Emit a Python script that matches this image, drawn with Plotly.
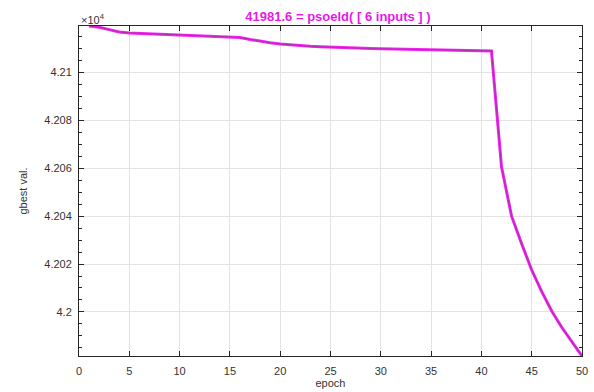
import plotly.graph_objects as go

epochs = list(range(1, 51))
gbest = [
    42119.4, 42118.9, 42117.9, 42116.9, 42116.5, 42116.3, 42116.1, 42115.9, 42115.8, 42115.6,
    42115.4, 42115.2, 42115.0, 42114.9, 42114.7, 42114.6, 42113.8, 42113.0, 42112.4, 42111.9,
    42111.5, 42111.1, 42110.9, 42110.7, 42110.5, 42110.3, 42110.2, 42110.1, 42110.0, 42109.9,
    42109.8, 42109.7, 42109.6, 42109.5, 42109.4, 42109.3, 42109.2, 42109.1, 42109.1, 42109.0,
    42109.0, 42060.6, 42040.0, 42028.5, 42017.5, 42008.5, 42000.3, 41993.5, 41987.3, 41981.6,
]
xtick_vals = [0, 5, 10, 15, 20, 25, 30, 35, 40, 45, 50]
ytick_vals = [42000, 42020, 42040, 42060, 42080, 42100]
ytick_text = ["4.2", "4.202", "4.204", "4.206", "4.208", "4.21"]
title_text = "41981.6 = psoeld( [ 6 inputs ] )"

axis_color = "#262626"
grid_color = "#e3e3e3"
font = "Liberation Sans, Arial, sans-serif"

fig = go.Figure()
fig.add_trace(go.Scatter(
    x=epochs, y=gbest, mode="lines",
    line=dict(color="#f028f0", width=3),
    hoverinfo="skip", showlegend=False,
))
fig.add_trace(go.Scatter(
    x=epochs, y=gbest, mode="lines",
    line=dict(color="#b82ab8", width=1.2),
    hoverinfo="skip", showlegend=False,
))

fig.update_layout(
    width=594, height=392,
    margin=dict(l=79, r=12, t=26, b=36),
    paper_bgcolor="white", plot_bgcolor="white",
    font=dict(family=font, size=11, color="#333333"),
    title=dict(
        text="<b>" + title_text + "</b>",
        x=338 / 594, xanchor="center", y=1 - 16 / 392, yanchor="middle",
        font=dict(family=font, size=13, color="#e619e6"),
    ),
    annotations=[
        dict(text="×10<sup>4</sup>", xref="paper", yref="paper",
             x=0.0, y=1.0, xanchor="left", yanchor="bottom", showarrow=False,
             font=dict(family=font, size=11, color="#333333"), yshift=-2),
    ],
)

fig.update_xaxes(
    range=[0, 50], tickvals=xtick_vals, automargin=False,
    showline=True, linecolor=axis_color, linewidth=1, mirror="allticks",
    ticks="inside", ticklen=5, tickcolor=axis_color, ticklabelstandoff=5,
    showgrid=True, gridcolor=grid_color, gridwidth=1, zeroline=False,
    title=dict(text="epoch", standoff=2, font=dict(family=font, size=11, color="#333333")),
    tickfont=dict(family=font, size=11, color="#333333"),
)
fig.update_yaxes(
    range=[41981.6, 42119.4], tickvals=ytick_vals, ticktext=ytick_text, automargin=False,
    showline=True, linecolor=axis_color, linewidth=1, mirror="allticks",
    ticks="inside", ticklen=5, tickcolor=axis_color, ticklabelstandoff=4,
    minor=dict(ticks="inside", ticklen=3, dtick=5, tick0=42000, tickcolor=axis_color, showgrid=False),
    showgrid=True, gridcolor=grid_color, gridwidth=1, zeroline=False,
    title=dict(text="gbest val.", standoff=14, font=dict(family=font, size=11, color="#333333")),
    tickfont=dict(family=font, size=11, color="#333333"),
)

fig.write_html("out.html")
